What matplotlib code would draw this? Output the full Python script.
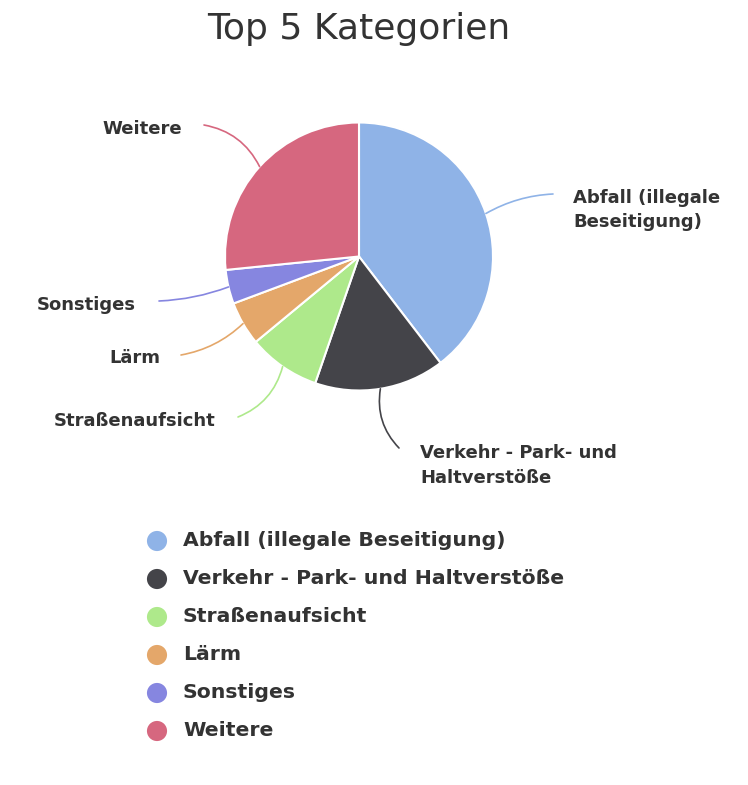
import matplotlib.pyplot as plt
import numpy as np

# Anteile der Kategorien (Prozent, aus dem Bild geschaetzt)
kategorien = ["Abfall (illegale Beseitigung)", "Verkehr - Park- und Haltverstöße",
              "Straßenaufsicht", "Lärm", "Sonstiges", "Weitere"]
werte = [39.6, 15.7, 8.7, 5.3, 4.1, 26.6]
farben = ["#8fb3e7", "#444449", "#aee98b", "#e4a76a", "#8686e0", "#d6677f"]
beschriftung = ["Abfall (illegale\nBeseitigung)", "Verkehr - Park- und\nHaltverstöße",
                "Straßenaufsicht", "Lärm", "Sonstiges", "Weitere"]

textfarbe = "#333333"

fig = plt.figure(figsize=(7.48, 7.85), dpi=100)
ax = fig.add_axes([0, 0, 1, 1])

mitte = (359, 256.5)
r = 134
wedges, _ = ax.pie(werte, colors=farben, startangle=-90, counterclock=True,
                   center=mitte, radius=r, frame=True,
                   wedgeprops=dict(edgecolor="white", linewidth=1.5))
ax.set_xlim(0, 748)
ax.set_ylim(785, 0)
ax.set_aspect("equal")
ax.axis("off")

# Position der Beschriftungen (Pixel) und Ausrichtung
label_pos = [(573, 210), (420, 465.5), (216, 421), (160, 358), (136, 305), (182, 129)]
linien_ende = [(553, 194), (399, 448), (238, 417), (181, 355), (159, 301), (204, 125)]
ausrichtung = ["left", "left", "right", "right", "right", "right"]
kruemmung = [0.12, -0.25, 0.25, 0.15, 0.08, -0.25]

for w, txt, pos, ende, ha, rad, col in zip(wedges, beschriftung, label_pos, linien_ende,
                                          ausrichtung, kruemmung, farben):
    a = np.deg2rad((w.theta1 + w.theta2) / 2)
    start = (mitte[0] + r * np.cos(a), mitte[1] + r * np.sin(a))
    ax.annotate("", xy=start, xytext=ende,
                arrowprops=dict(arrowstyle="-", color=col, lw=1.2,
                                connectionstyle=f"arc3,rad={rad}",
                                shrinkA=0, shrinkB=0))
    ax.text(pos[0], pos[1], txt, ha=ha, va="center", fontsize=13,
            fontweight="bold", color=textfarbe, linespacing=1.45)

ax.text(359, 29, "Top 5 Kategorien", ha="center", va="center", fontsize=26,
        color=textfarbe)

# Legende
for i, (name, col) in enumerate(zip(kategorien, farben)):
    y = 541 + 38 * i
    ax.scatter(157, y, s=210, color=col, edgecolors="none")
    ax.text(183, y, name, ha="left", va="center", fontsize=14.7,
            fontweight="bold", color=textfarbe)

fig.savefig("out.png", dpi=100)
